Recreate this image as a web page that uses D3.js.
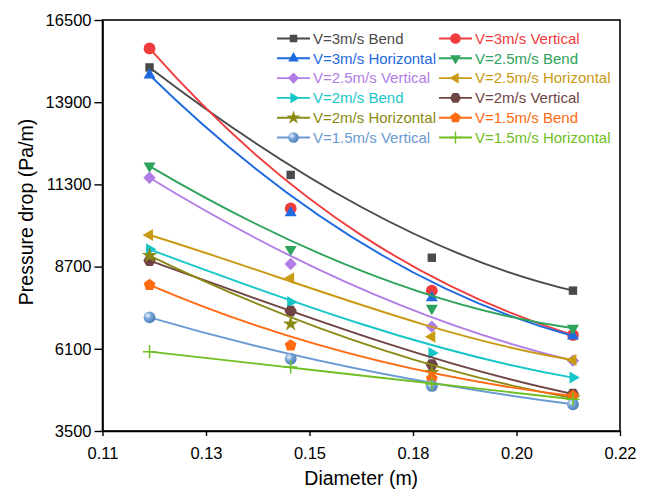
<!DOCTYPE html>
<html>
<head>
<meta charset="utf-8">
<script src="https://cdn.jsdelivr.net/npm/d3@7/dist/d3.min.js"></script>
<style>
  html, body { margin: 0; padding: 0; background: #fff; }
  svg { display: block; font-family: "Liberation Sans", Arial, sans-serif; }
</style>
</head>
<body>
<svg id="chart" width="650" height="493"></svg>
<script>
// ---- data ----
const diameters = [0.12, 0.15, 0.18, 0.21];
const seriesNames = [
  "V=3m/s Bend", "V=3m/s Vertical", "V=3m/s Horizontal", "V=2.5m/s Bend",
  "V=2.5m/s Vertical", "V=2.5m/s Horizontal", "V=2m/s Bend", "V=2m/s Vertical",
  "V=2m/s Horizontal", "V=1.5m/s Bend", "V=1.5m/s Vertical", "V=1.5m/s Horizontal"
];
const bend3   = [15000, 11600, 8980, 7940];
const vert3   = [15600, 10540, 7940, 6535];
const hor3    = [14760, 10400, 7715, 6505];
const bend25  = [11880, 9245, 7380, 6750];
const vert25  = [11510, 8780, 6800, 5725];
const hor25   = [9700, 8330, 6485, 5745];
const bend2   = [9245, 7580, 5965, 5190];
const vert2   = [8890, 7295, 5600, 4670];
const hor2    = [9050, 6885, 5350, 4545];
const bend15  = [8120, 6205, 5155, 4605];
const vert15  = [7095, 5785, 4925, 4345];
const hor15   = [6010, 5525, 4985, 4505];
const seriesValues = [bend3, vert3, hor3, bend25, vert25, hor25, bend2, vert2, hor2, bend15, vert15, hor15];
const seriesColors = ["#4a4a4a", "#f03c3c", "#1f6ae0", "#2ea35c", "#b07de6", "#c99a14",
                      "#17c6c8", "#704444", "#8a8a14", "#ff6a12", "#6a9ad2", "#6fbe22"];
const yTicks = [3500, 6100, 8700, 11300, 13900, 16500];
const xTicks = [0.11, 0.132, 0.154, 0.176, 0.198, 0.22];
const xTickLabels = ["0.11", "0.13", "0.15", "0.18", "0.20", "0.22"];
const xTitle = "Diameter (m)";
const yTitle = "Pressure drop (Pa/m)";

// ---- layout ----
const L = 102.5, R = 620, T = 20, B = 431;
const svg = d3.select("#chart");
const x = d3.scaleLinear().domain([0.11, 0.22]).range([L, R]);
const y = d3.scaleLinear().domain([3500, 16500]).range([B, T]);

// gradient for sphere marker
const defs = svg.append("defs");
const grad = defs.append("radialGradient").attr("id", "sphere")
  .attr("cx", "35%").attr("cy", "35%").attr("r", "65%");
grad.append("stop").attr("offset", "0%").attr("stop-color", "#eef4fb");
grad.append("stop").attr("offset", "45%").attr("stop-color", "#7aa6d8");
grad.append("stop").attr("offset", "100%").attr("stop-color", "#4f80b8");

// ---- custom symbols ----
function polygon(n, rot) {
  return { draw(ctx, size) {
    const r = Math.sqrt(size) * 0.62;
    for (let i = 0; i < n; i++) {
      const a = rot + i * 2 * Math.PI / n;
      const px = r * Math.sin(a), py = -r * Math.cos(a);
      if (i === 0) ctx.moveTo(px, py); else ctx.lineTo(px, py);
    }
    ctx.closePath();
  }};
}
const triUp = polygon(3, 0);
const triDown = polygon(3, Math.PI);
const triLeft = polygon(3, -Math.PI / 2);
const triRight = polygon(3, Math.PI / 2);
const diamond = polygon(4, 0);
const square = polygon(4, Math.PI / 4);
const hexagon = polygon(6, Math.PI / 6);
const pentagon = polygon(5, 0);
const plus = { draw(ctx, size) {
  const r = Math.sqrt(size) * 0.6;
  ctx.moveTo(-r, 0); ctx.lineTo(r, 0); ctx.moveTo(0, -r); ctx.lineTo(0, r);
}};
const markerTypes = [square, d3.symbolCircle, triUp, triDown, diamond, triLeft,
                     triRight, hexagon, d3.symbolStar, pentagon, d3.symbolCircle, plus];
const markerSizes = [92, 110, 125, 125, 100, 125, 125, 100, 75, 100, 110, 120];

// ---- custom cubic Bezier curve (B-spline through 4 control points) ----
function curveBezier(context) {
  let pts;
  return {
    areaStart() {}, areaEnd() {},
    lineStart() { pts = []; },
    point(px, py) { pts.push([+px, +py]); },
    lineEnd() {
      if (pts.length === 4) {
        context.moveTo(pts[0][0], pts[0][1]);
        context.bezierCurveTo(pts[1][0], pts[1][1], pts[2][0], pts[2][1], pts[3][0], pts[3][1]);
      } else if (pts.length) {
        context.moveTo(pts[0][0], pts[0][1]);
        pts.slice(1).forEach(p => context.lineTo(p[0], p[1]));
      }
    }
  };
}

// ---- frame ----
svg.append("rect").attr("x", L).attr("y", T).attr("width", R - L).attr("height", B - T)
  .attr("fill", "#fff").attr("stroke", "#000").attr("stroke-width", 1.6);

// ---- axes ----
const yAxis = d3.axisLeft(y).tickValues(yTicks).tickSize(8).tickSizeOuter(0).tickPadding(3)
  .tickFormat(d3.format("d"));
const gy = svg.append("g").attr("transform", `translate(${L},0)`).call(yAxis);
const xAxis = d3.axisBottom(x).tickValues(xTicks).tickSize(5).tickSizeOuter(0).tickPadding(11)
  .tickFormat((d, i) => xTickLabels[i]);
const gx = svg.append("g").attr("transform", `translate(0,${B})`).call(xAxis);
[gx, gy].forEach(g => {
  g.select(".domain").attr("stroke", "#000").attr("stroke-width", 1.6);
  g.selectAll(".tick line").attr("stroke", "#000").attr("stroke-width", 1.4);
  g.selectAll(".tick text").attr("fill", "#000").style("font-size", "16.5px")
    .style("font-family", '"Liberation Sans", Arial, sans-serif');
});

svg.append("text").attr("x", (L + R) / 2).attr("y", 485).attr("text-anchor", "middle")
  .style("font-size", "19.5px").attr("fill", "#000").text(xTitle);
svg.append("text").attr("transform", `translate(33,212) rotate(-90)`)
  .attr("text-anchor", "middle").style("font-size", "19.5px").attr("fill", "#000").text(yTitle);

// ---- series ----
const line = d3.line().x(d => x(d[0])).y(d => y(d[1])).curve(curveBezier);
const plot = svg.append("g");
seriesValues.forEach((vals, i) => {
  const pts = diameters.map((d, j) => [d, vals[j]]);
  const g = plot.append("g");
  g.append("path").attr("d", line(pts)).attr("fill", "none")
    .attr("stroke", seriesColors[i]).attr("stroke-width", 1.9);
  const sym = d3.symbol().type(markerTypes[i]).size(markerSizes[i]);
  g.selectAll("path.m").data(pts).enter().append("path").attr("class", "m")
    .attr("transform", d => `translate(${x(d[0])},${y(d[1])})`)
    .attr("d", sym)
    .attr("fill", i === 11 ? "none" : (i === 10 ? "url(#sphere)" : seriesColors[i]))
    .attr("stroke", i === 11 ? seriesColors[i] : "none")
    .attr("stroke-width", 1.5);
});

// ---- legend ----
const legend = svg.append("g");
seriesNames.forEach((name, i) => {
  const col = i % 2, row = Math.floor(i / 2);
  const lx = col === 0 ? 277 : 439;
  const ly = 38.5 + row * 19.8;
  const g = legend.append("g").attr("transform", `translate(${lx},${ly})`);
  g.append("line").attr("x1", 0).attr("x2", 33).attr("y1", 0).attr("y2", 0)
    .attr("stroke", seriesColors[i]).attr("stroke-width", 1.9);
  g.append("path").attr("transform", "translate(16.5,0)")
    .attr("d", d3.symbol().type(markerTypes[i]).size(markerSizes[i] * 0.8))
    .attr("fill", i === 11 ? "none" : (i === 10 ? "url(#sphere)" : seriesColors[i]))
    .attr("stroke", i === 11 ? seriesColors[i] : "none").attr("stroke-width", 1.4);
  g.append("text").attr("x", 36).attr("y", 0).attr("dy", "0.35em")
    .style("font-size", "15px").attr("fill", seriesColors[i]).text(name);
});
</script>
</body>
</html>
